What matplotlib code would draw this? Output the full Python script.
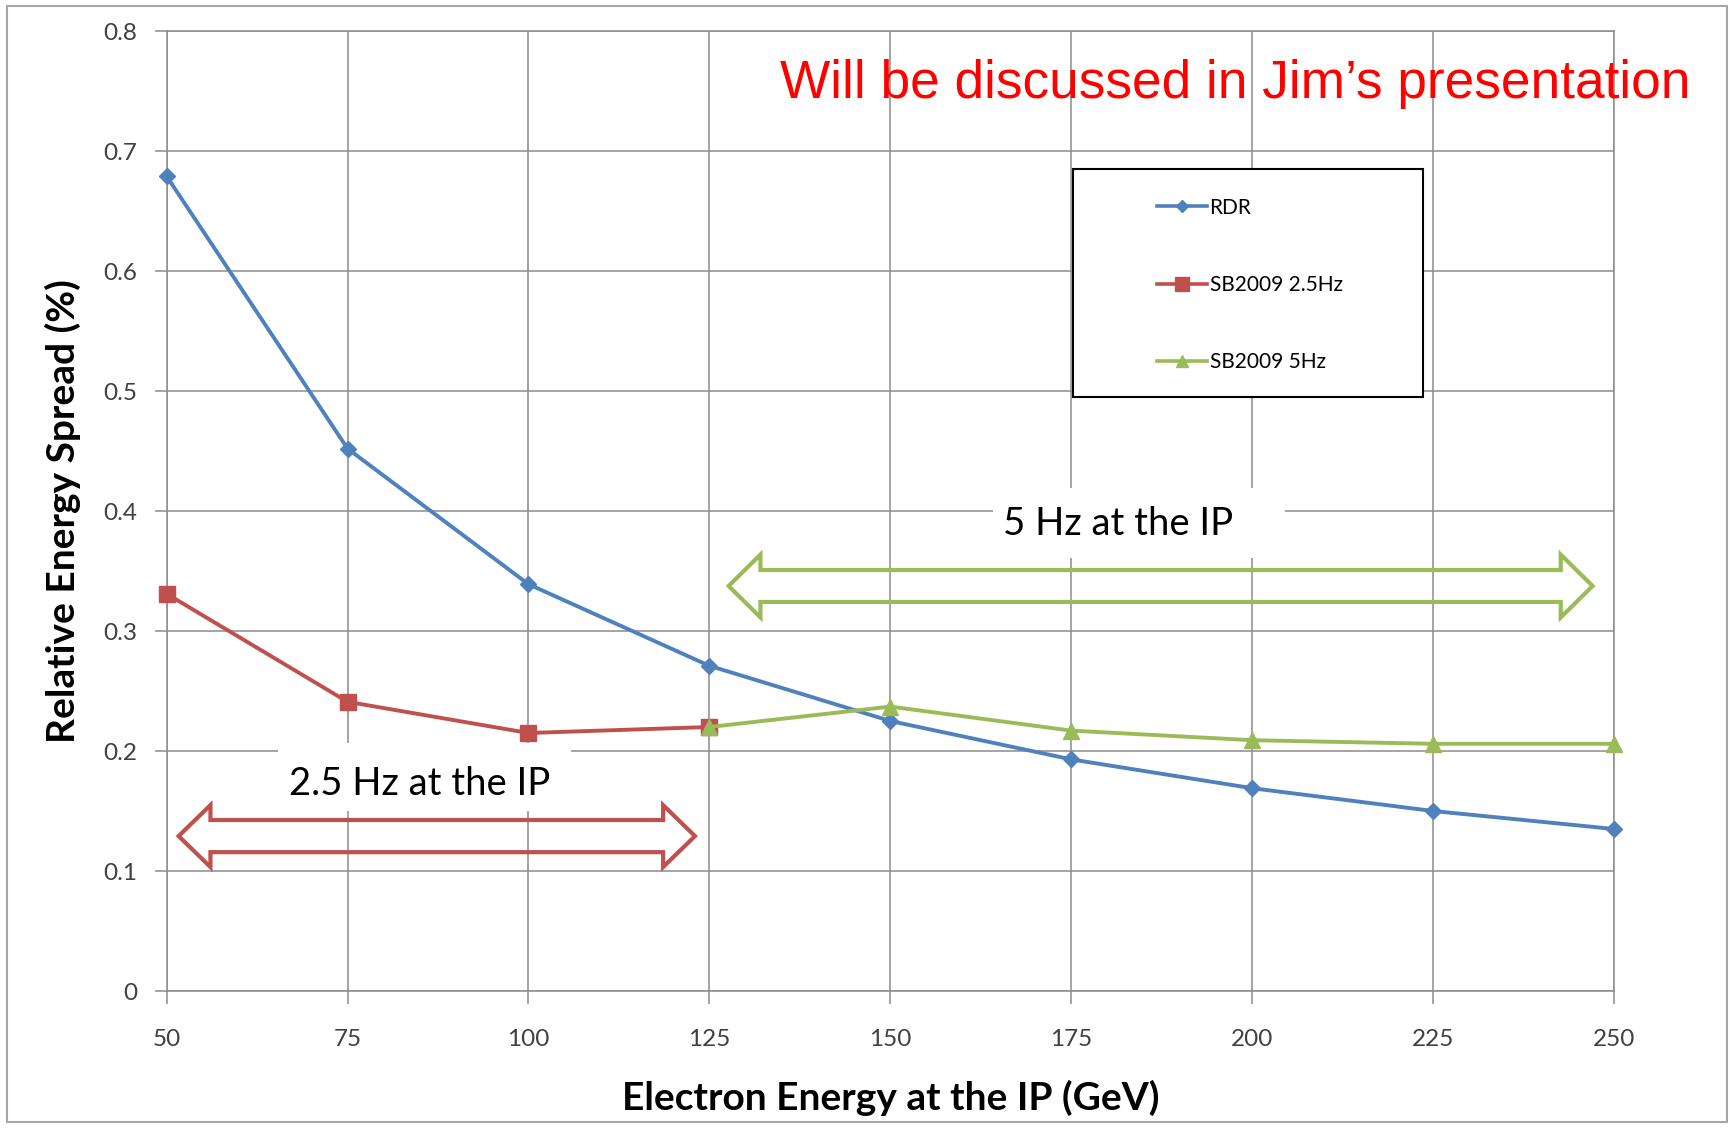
import matplotlib.pyplot as plt
from matplotlib.patches import Polygon, Rectangle
from matplotlib.lines import Line2D

# beam energies (GeV) and relative energy spread (%)
energy = [50, 75, 100, 125, 150, 175, 200, 225, 250]
rdr = [0.679, 0.452, 0.339, 0.271, 0.225, 0.193, 0.169, 0.150, 0.135]

energy_25 = [50, 75, 100, 125]
sb2009_25 = [0.331, 0.241, 0.215, 0.220]

energy_5 = [125, 150, 175, 200, 225, 250]
sb2009_5 = [0.220, 0.237, 0.217, 0.209, 0.206, 0.206]

xticks = [50, 75, 100, 125, 150, 175, 200, 225, 250]
yticks = [0, 0.1, 0.2, 0.3, 0.4, 0.5, 0.6, 0.7, 0.8]

BLUE = '#4F81BD'
RED = '#C0504D'
GREEN = '#9BBB59'
GRID = '#8C8C8C'
CAL = ['Lato', 'DejaVu Sans']


def double_arrow(ax, x0, x1, yc, head_len, shaft_hw, head_hw, color):
    # hollow block arrow pointing both ways
    pts = [
        (x0, yc),
        (x0 + head_len, yc + head_hw),
        (x0 + head_len, yc + shaft_hw),
        (x1 - head_len, yc + shaft_hw),
        (x1 - head_len, yc + head_hw),
        (x1, yc),
        (x1 - head_len, yc - head_hw),
        (x1 - head_len, yc - shaft_hw),
        (x0 + head_len, yc - shaft_hw),
        (x0 + head_len, yc - head_hw),
    ]
    ax.add_patch(Polygon(pts, closed=True, fill=False, edgecolor=color,
                         linewidth=3, joinstyle='miter', zorder=4))


def label_box(ax, x0, x1, y0, y1):
    # white text box that hides the grid behind a label
    ax.add_patch(Rectangle((x0, y0), x1 - x0, y1 - y0, facecolor='white',
                           edgecolor='none', zorder=2))


fig = plt.figure(figsize=(17.3, 11.3), dpi=100)
fig.patches.append(Rectangle((7 / 1730, 1 - 1122 / 1130), 1720 / 1730, 1116 / 1130,
                             transform=fig.transFigure, fill=False,
                             edgecolor='#A6A6A6', linewidth=1.5))

ax = fig.add_axes([166.6 / 1730, 1 - 991 / 1130, (1614 - 166.6) / 1730, 960 / 1130])

ax.plot(energy, rdr, '-D', color=BLUE, lw=2.8, ms=7.7, zorder=5, clip_on=False)
ax.plot(energy_25, sb2009_25, '-s', color=RED, lw=2.8, ms=12, zorder=5, clip_on=False)
ax.plot(energy_5, sb2009_5, '-^', color=GREEN, lw=2.8, ms=11.5, zorder=5, clip_on=False)

ax.set_xlim(50, 250)
ax.set_ylim(0, 0.8)
ax.set_xticks(xticks)
ax.set_yticks(yticks)
ax.set_xticklabels([str(v) for v in xticks], family=CAL, fontsize=17.5, color='#404040')
ax.set_yticklabels(['0' if v == 0 else '%.1f' % v for v in yticks],
                   family=CAL, fontsize=17.5, color='#404040')
ax.tick_params(axis='both', direction='out', length=9, width=1.1, color=GRID)
ax.tick_params(axis='x', pad=18)
ax.tick_params(axis='y', pad=12)
ax.grid(True, color=GRID, lw=1.1)
ax.set_axisbelow(True)
for side in ['top', 'right']:
    ax.spines[side].set_visible(False)
for side in ['left', 'bottom']:
    ax.spines[side].set_color(GRID)
    ax.spines[side].set_linewidth(1.1)
# gridlines close the frame on the top and right
ax.axhline(0.8, color=GRID, lw=1.1, clip_on=False, zorder=1)
ax.axvline(250, color=GRID, lw=1.1, clip_on=False, zorder=1)

ax.set_xlabel('Electron Energy at the IP (GeV)', family=CAL, fontsize=28,
              fontweight='bold', labelpad=22)
ax.set_ylabel('Relative Energy Spread (%)', family=CAL, fontsize=28,
              fontweight='bold', labelpad=16)

# repetition-rate ranges
double_arrow(ax, 51.66, 123.01, 0.1291, 4.4, 0.0134, 0.0258, RED)
double_arrow(ax, 127.66, 247.04, 0.3375, 4.4, 0.0133, 0.0262, GREEN)
label_box(ax, 65.4, 105.9, 0.150, 0.2067)
label_box(ax, 164.2, 204.5, 0.361, 0.419)
ax.text(85.0, 0.1725, '2.5 Hz at the IP', family=CAL, fontsize=27.5, ha='center',
        va='center', zorder=3)
ax.text(181.5, 0.389, '5 Hz at the IP', family=CAL, fontsize=27.5, ha='center',
        va='center', zorder=3)

# legend in its own black box
fig.patches.append(Rectangle((1073 / 1730, 1 - 397 / 1130), 350 / 1730, 228 / 1130,
                             transform=fig.transFigure, facecolor='white',
                             edgecolor='black', linewidth=1.5, zorder=6))
handles = [
    Line2D([], [], color=BLUE, marker='D', lw=2.6, ms=6.5),
    Line2D([], [], color=RED, marker='s', lw=2.6, ms=9.5),
    Line2D([], [], color=GREEN, marker='^', lw=2.6, ms=9),
]
leg = fig.legend(handles, ['RDR', 'SB2009 2.5Hz', 'SB2009 5Hz'],
                 loc='center left', bbox_to_anchor=(1147 / 1730, 1 - 285 / 1130),
                 frameon=False, borderpad=0, handlelength=2.4, handletextpad=0.1,
                 labelspacing=2.75, prop={'family': CAL, 'size': 15})
leg.set_zorder(7)

fig.text(1690 / 1730, 1 - 84 / 1130, 'Will be discussed in Jim\u2019s presentation',
         color='red', fontsize=38.3, family='Liberation Sans', ha='right', va='center')

fig.savefig('out.png', dpi=100)
